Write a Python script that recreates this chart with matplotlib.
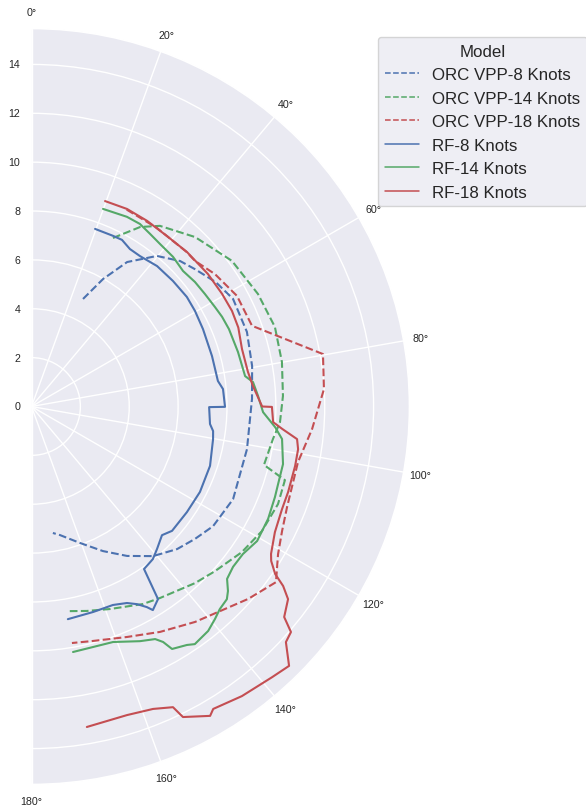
import matplotlib
matplotlib.use('Agg')
import matplotlib.pyplot as plt
import numpy as np
import seaborn as sns

# ---- data: (true wind angle in degrees, boat speed in knots) ----
orc8_theta = [25.6, 29.3, 33.5, 39.8, 45.6, 50.0, 56.0, 61.9, 70.9, 79.6, 88.0, 101.2, 114.7,
              123.4, 129.0, 134.4, 140.9, 147.4, 153.7, 160.4, 167.5, 170.4]
orc8_r = [4.88, 5.98, 7.09, 8.02, 8.51, 8.74, 9.10, 9.35, 9.33, 9.18, 9.03, 8.99, 9.08,
          8.90, 8.61, 8.34, 7.89, 7.26, 6.60, 5.93, 5.39, 5.25]

orc14_theta = [25.8, 31.2, 35.4, 44.0, 54.0, 63.6, 71.9, 79.9, 87.6, 93.6, 97.7, 104.1, 106.2,
               111.6, 118.4, 124.7, 131.9, 137.2, 146.1, 150.6, 158.8, 164.8, 170.2]
orc14_r = [7.66, 8.59, 9.07, 9.64, 10.14, 10.35, 10.48, 10.41, 10.30, 10.19, 9.97, 9.81, 10.80,
           10.85, 10.72, 10.47, 10.09, 9.85, 9.44, 9.28, 8.89, 8.67, 8.50]

orc18_theta = [25.8, 35.0, 45.0, 48.3, 54.2, 61.7, 69.9, 79.8, 86.6, 94.6, 101.8, 111.5, 116.4,
               120.9, 125.7, 131.6, 142.8, 150.3, 157.5, 165.3, 170.3]
orc18_r = [8.95, 8.93, 8.96, 8.96, 9.26, 9.55, 9.61, 12.12, 11.99, 11.52, 11.14, 11.24, 11.45,
           11.76, 12.32, 11.86, 11.07, 10.62, 10.21, 9.92, 9.82]

rf8_theta = [19.7, 25.5, 28.5, 32.0, 35.8, 41.8, 48.4, 54.8, 59.7, 65.7, 74.4, 82.2, 84.8, 90.1,
             90.2, 95.6, 97.7, 100.2, 108.4, 116.9, 124.2, 131.5, 134.6, 138.6, 141.5, 145.3,
             146.7, 149.2, 150.1, 151.9, 154.1, 157.7, 163.3, 170.3]
rf8_r = [7.72, 7.74, 7.76, 7.60, 7.59, 7.71, 7.74, 7.78, 7.75, 7.70, 7.67, 7.70, 7.87, 7.92,
         7.27, 7.34, 7.50, 7.55, 7.70, 7.73, 7.69, 7.68, 7.50, 7.77, 7.98, 8.09,
         9.43, 9.70, 9.47, 9.17, 8.94, 8.78, 8.78, 8.83]

rf14_theta = [19.9, 26.7, 30.7, 34.5, 38.3, 43.4, 48.2, 52.7, 57.0, 61.5, 64.8, 68.6, 75.2, 81.9,
              83.7, 87.3, 91.4, 94.8, 97.4, 102.9, 107.5, 110.4, 115.4, 120.8, 124.9, 128.5,
              131.4, 133.2, 134.6, 137.1, 139.2, 141.8, 145.5, 146.9, 149.9, 150.8, 152.0,
              155.2, 160.9, 165.7, 170.4]
rf14_r = [8.60, 8.69, 8.69, 8.57, 8.48, 8.43, 8.32, 8.41, 8.46, 8.54, 8.62, 8.68, 8.74, 8.83,
          9.12, 9.28, 9.48, 10.00, 10.34, 10.56, 10.58, 10.63, 10.72, 10.75, 10.55, 10.54,
          10.67, 11.03, 11.23, 11.32, 11.49, 11.69, 11.80, 11.65, 11.47, 11.04, 10.78,
          10.58, 10.20, 10.16, 10.19]

rf18_theta = [19.7, 25.8, 31.9, 38.5, 45.2, 53.1, 59.4, 64.5, 69.1, 74.7, 80.9, 84.7, 90.0, 90.1,
              93.7, 95.1, 97.0, 99.1, 102.7, 108.4, 112.3, 117.3, 121.6, 122.8, 124.5, 125.5,
              126.9, 129.8, 131.0, 132.8, 135.2, 138.4, 144.0, 149.0, 150.0, 154.0, 154.8,
              158.1, 162.8, 170.2]
rf18_r = [8.93, 8.98, 8.95, 8.91, 8.97, 9.03, 9.06, 9.09, 9.06, 8.93, 8.97, 9.10, 9.44, 9.84,
          9.91, 10.30, 10.95, 11.05, 11.06, 11.07, 11.08, 11.21, 11.51, 11.67, 12.10, 12.65,
          13.13, 13.46, 14.07, 14.19, 14.96, 14.82, 14.65, 14.44, 14.62, 14.14, 13.60,
          13.34, 13.22, 13.31]

series = [
    ("ORC VPP-8 Knots", orc8_theta, orc8_r, "--", 0),
    ("ORC VPP-14 Knots", orc14_theta, orc14_r, "--", 2),
    ("ORC VPP-18 Knots", orc18_theta, orc18_r, "--", 3),
    ("RF-8 Knots", rf8_theta, rf8_r, "-", 0),
    ("RF-14 Knots", rf14_theta, rf14_r, "-", 2),
    ("RF-18 Knots", rf18_theta, rf18_r, "-", 3),
]

sns.set_theme(style="darkgrid")
plt.rcParams['font.family'] = ['Liberation Sans', 'DejaVu Sans']
pal = sns.color_palette("deep")

W, H = 586.0, 812.0
cx, cy, R = 31.5, 407.5, 378.0   # wedge centre and radius in pixels
side = 2 * R
left = (cx + R / 2 - side / 2) / W
bottom = (H - cy - R) / H

fig = plt.figure(figsize=(W / 100, H / 100), dpi=100)
ax = fig.add_axes([left, bottom, side / W, side / H], projection='polar')
ax.set_theta_zero_location('N')
ax.set_theta_direction(-1)
ax.set_thetamin(0)
ax.set_thetamax(180)

for label, th, r, ls, ci in series:
    ax.plot(np.radians(th), r, ls, color=pal[ci], lw=1.5, label=label)

ax.set_ylim(0, 15.47)
ax.set_yticks(np.arange(0, 15, 2))
ax.set_xticks(np.radians(np.arange(0, 181, 20)))
ax.tick_params(labelsize=7.7)
ax.tick_params(axis='x', size=0, pad=5.2)
ax.tick_params(axis='y', size=0, pad=8)

leg = ax.legend(title="Model", loc="upper left", bbox_to_anchor=(378 / W, 1 - 38 / H),
                bbox_transform=fig.transFigure, borderaxespad=0,
                fontsize=12.2, title_fontsize=12.2)
for h in leg.get_lines():
    h.set_linewidth(1.1)

fig.savefig("out.png", dpi=100)
